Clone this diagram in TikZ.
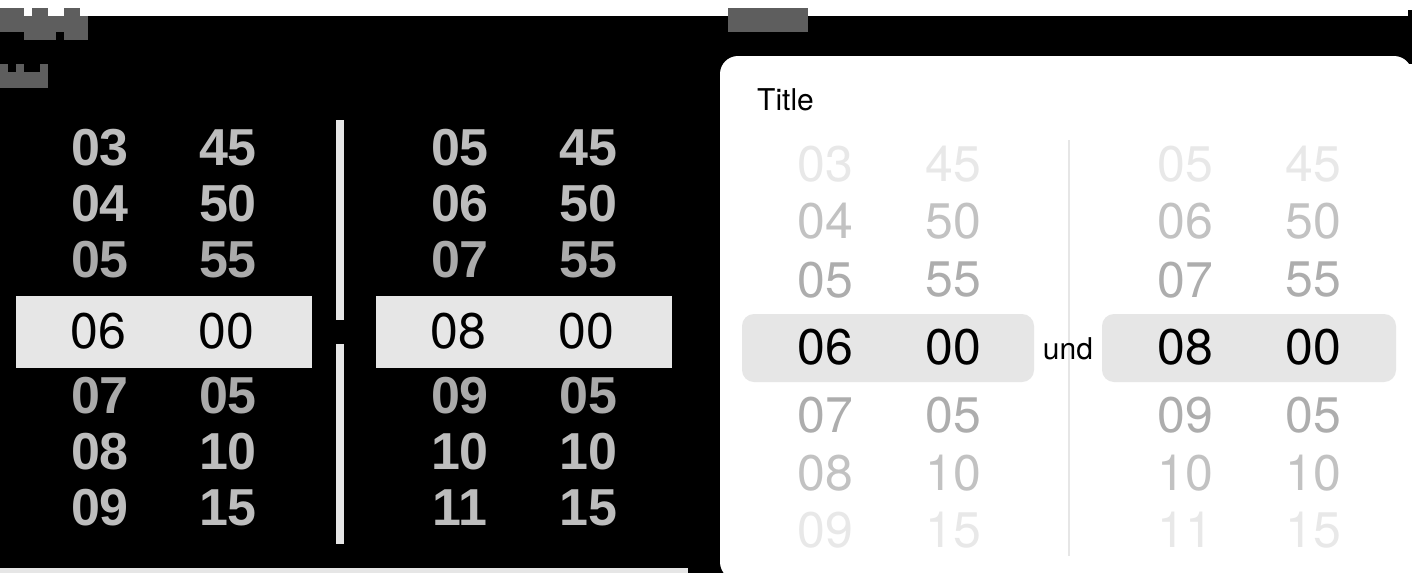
\documentclass[tikz,border=0pt]{standalone}
\usepackage{fontspec}
\newfontfamily\heros{TeX Gyre Heros}
\newfontfamily\pixfont{Liberation Sans}
\definecolor{band}{HTML}{E6E6E6}
\definecolor{pixA}{HTML}{AAAAAA}
\definecolor{pixB}{HTML}{BDBDBD}
\definecolor{blockgray}{HTML}{5E5E5E}
\definecolor{fadeA}{HTML}{ADADAD}
\definecolor{fadeB}{HTML}{C2C2C2}
\definecolor{fadeC}{HTML}{E8E8E8}
\begin{document}
\begin{tikzpicture}[x=1pt,y=-1pt,
  pix/.style={inner sep=0pt, font=\pixfont\bfseries\fontsize{52}{52}\selectfont},
  selnum/.style={inner sep=0pt, text=black, font=\heros\fontsize{50}{50}\selectfont},
  wheelnum/.style={inner sep=0pt, font=\heros\fontsize{50}{50}\selectfont},
  smalltext/.style={inner sep=0pt, text=black, font=\heros\fontsize{30}{30}\selectfont},
  bandfill/.style={fill=band},
  block/.style={fill=blockgray}]
\useasboundingbox (0,0) rectangle (1412,573);
\clip (0,0) rectangle (1412,573);
% backgrounds
\fill[white] (0,0) rectangle (1412,573);
\fill[black] (0,16) rectangle (1408,573);
\fill[black] (1408,10) rectangle (1412,64);
\fill[bandfill] (0,568) rectangle (688,573);
\fill[white, rounded corners=18pt] (720,56) rectangle (1412,580);
% pixelated labels (unreadable)
\fill[block] (0,16) rectangle (88,32);
\fill[block] (0,8) rectangle (24,16);
\fill[block] (32,8) rectangle (48,16);
\fill[block] (64,8) rectangle (80,16);
\fill[block] (24,32) rectangle (56,40);
\fill[block] (64,32) rectangle (88,40);
\fill[block] (0,72) rectangle (48,88);
\fill[block] (0,64) rectangle (8,72);
\fill[block] (16,64) rectangle (24,72);
\fill[block] (40,64) rectangle (48,72);
\fill[block] (728,8) rectangle (808,32);
% left (pixelated) picker
\fill[bandfill] (336,120) rectangle (344,320);
\fill[bandfill] (336,344) rectangle (344,544);
\fill[bandfill] (16,296) rectangle (312,368);
\fill[bandfill] (376,296) rectangle (672,368);
\node[selnum] (lsel1) at (98,331) {06};
\node[selnum] (lsel2) at (226,331) {00};
\node[selnum] (lsel3) at (458,331) {08};
\node[selnum] (lsel4) at (586,331) {00};
\foreach \y/\a/\b/\c/\d/\col in {148/03/45/05/45/pixB, 204/04/50/06/50/pixB, 260/05/55/07/55/pixA, 396/07/05/09/05/pixA, 452/08/10/10/10/pixB, 508/09/15/11/15/pixB}{
  \node[pix, text=\col] (pl\y a) at (100,\y) {\a};
  \node[pix, text=\col] (pl\y b) at (228,\y) {\b};
  \node[pix, text=\col] (pl\y c) at (460,\y) {\c};
  \node[pix, text=\col] (pl\y d) at (588,\y) {\d};
}
% right picker
\node[smalltext, anchor=west] (title) at (757,100) {Title};
\draw[band, line width=2pt] (1069,140) -- (1069,556);
\fill[bandfill, rounded corners=12pt] (742,314) rectangle (1034,382);
\fill[bandfill, rounded corners=12pt] (1102,314) rectangle (1396,382);
\node[selnum] (rsel1) at (825,347) {06};
\node[selnum] (rsel2) at (953,347) {00};
\node[selnum] (rsel3) at (1185,347) {08};
\node[selnum] (rsel4) at (1313,347) {00};
\node[smalltext] (und) at (1068,349) {und};
\foreach \y/\a/\b/\c/\d/\col in {164/03/45/05/45/fadeC, 221/04/50/06/50/fadeB, 280/05/55/07/55/fadeA, 415/07/05/09/05/fadeA, 473/08/10/10/10/fadeB, 530/09/15/11/15/fadeC}{
  \node[wheelnum, text=\col] (pr\y a) at (825,\y) {\a};
  \node[wheelnum, text=\col] (pr\y b) at (953,\y) {\b};
  \node[wheelnum, text=\col] (pr\y c) at (1185,\y) {\c};
  \node[wheelnum, text=\col] (pr\y d) at (1313,\y) {\d};
}
\end{tikzpicture}
\end{document}
